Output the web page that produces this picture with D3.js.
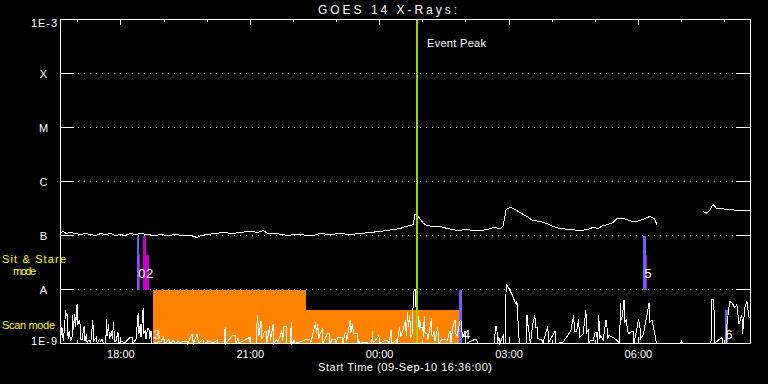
<!DOCTYPE html>
<html><head><meta charset="utf-8">
<script src="https://cdn.jsdelivr.net/npm/d3@7"></script>
<style>body{margin:0;background:#000}svg{display:block;background:#000}text{font-family:"Liberation Sans",Arial,sans-serif}</style>
</head><body><svg id="c" width="768" height="384"></svg>
<script>
// ---------- data ----------
const titleText = "GOES 14 X-Rays:";
const xAxisTitle = "Start Time (09-Sep-10 16:36:00)";
const startTime = new Date(2010, 8, 9, 16, 36);
const durationMin = 960;
const yTickValues = [1e-9, 1e-8, 1e-7, 1e-6, 1e-5, 1e-4, 1e-3];
const yTickLabels = ["1E-9", "A", "B", "C", "M", "X", "1E-3"];
const gridValues = [1e-8, 1e-7, 1e-6, 1e-5, 1e-4];
const peakMinute = 496.3;
const peakLabel = "Event Peak";

// long channel, [minutes from start, flux in 1e-7 W/m^2]; null = data gap
const longChannel = [[0,1.14],[4,1.19],[8,1.09],[14,1.14],[21,1.09],[28,1.04],[35,1.09],[42,1.04],[49,1.0],[56,1.09],[63,1.04],[70,1.09],[76,1.0],[83,1.04],[90,1.0],[97,1.09],[104,1.04],[111,1.09],[121,1.04],[132,1.0],[139,1.04],[149,1.0],[160,1.04],[170,1.0],[181,1.0],[190,0.92],[195,1.0],[204,1.04],[215,1.09],[227,1.14],[239,1.09],[250,1.14],[264,1.19],[275,1.14],[282,1.24],[288,1.09],[299,1.09],[316,1.0],[324,1.04],[334,1.04],[343,1.0],[352,1.0],[361,1.09],[375,1.04],[389,1.09],[403,1.04],[417,1.09],[431,1.14],[445,1.19],[455,1.24],[463,1.29],[473,1.35],[480,1.47],[487,1.53],[491,1.6],[493,2.45],[496,2.34],[500,2.06],[505,1.67],[510,1.53],[518,1.47],[528,1.47],[538,1.35],[552,1.24],[566,1.29],[574,1.24],[584,1.24],[594,1.29],[602,1.41],[612,1.35],[616,1.53],[620,3.03],[626,3.3],[630,3.16],[635,2.9],[639,2.67],[649,2.25],[657,1.9],[667,1.82],[677,1.67],[685,1.47],[695,1.35],[709,1.29],[723,1.24],[733,1.29],[741,1.41],[748,1.35],[755,1.53],[762,1.6],[769,1.74],[774,2.06],[782,2.06],[788,1.98],[795,1.82],[802,1.82],[810,1.98],[816,2.15],[820,2.25],[824,2.15],[827,1.98],[830,1.53],null,[894,2.78],[899,2.6],[903,2.9],[908,3.75],[913,3.16],[920,3.16],[927,3.03],[934,3.03],[941,2.9],[952,2.9],[959,2.9]];

// short channel, [minutes from start, flux in 1e-9 W/m^2]
const shortChannel = [[0,1.2],[2,2.0],[4,1.1],[6,2.4],[7,4.1],[8,3.3],[9,3.7],[10,1.5],[11,1.2],[12,1.7],[14,1.1],[16,1.3],[17,3.3],[18,1.8],[20,3.5],[21,2.0],[23,5.3],[24,2.2],[26,2.7],[27,2.6],[28,1.2],[30,1.2],[33,2.1],[34,1.1],[36,1.5],[37,1.0],[39,1.15],[41,1.1],[42,1.0],[45,2.7],[46,1.1],[50,1.3],[51,1.0],[54,1.2],[56,1.1],[58,1.2],[60,1.0],[63,1.0],[64,2.8],[65,1.4],[67,2.3],[68,1.2],[71,1.7],[72,1.2],[74,2.5],[75,1.1],[77,1.1],[80,1.6],[81,1.0],[86,1.1],[88,1.0],[97,1.3],[100,1.3],[101,1.0],[105,1.2],[108,3.6],[109,1.5],[111,2.3],[112,1.3],[115,4.6],[116,1.6],[118,1.7],[119,1.2],[121,1.9],[123,1.9],[124,1.2],[126,1.7],[127,1.0],[140,1.1],[143,1.3],[146,1.0],[150,1.2],[153,1.0],[157,1.15],[160,1.0],[164,1.1],[166,1.0],[170,1.1],[176,1.1],[177,1.0],[183,1.5],[185,1.0],[190,1.5],[192,1.0],[198,1.2],[200,1.0],[206,1.1],[209,1.1],[210,1.0],[218,1.15],[219,1.0],[228,1.0],[229,2.0],[230,1.0],[239,1.4],[243,1.4],[244,1.0],[247,1.25],[248,1.0],[263,1.3],[264,1.0],[272,1.0],[274,3.4],[276,1.4],[279,2.6],[280,1.2],[282,1.4],[284,1.7],[286,1.7],[287,1.0],[291,2.1],[292,1.1],[296,2.3],[297,1.0],[301,1.2],[302,1.0],[308,1.7],[309,1.1],[311,2.1],[314,2.1],[315,1.0],[320,1.0],[321,2.5],[322,1.0],[325,1.15],[326,1.0],[343,1.2],[347,1.2],[348,1.0],[355,2.5],[356,1.5],[358,2.3],[359,1.2],[361,1.5],[364,1.8],[365,1.0],[371,1.5],[374,1.5],[375,1.0],[378,1.2],[382,1.2],[383,1.0],[386,1.3],[392,1.3],[393,1.0],[395,1.4],[397,1.6],[398,1.1],[403,2.7],[404,1.6],[406,2.3],[408,1.5],[413,1.5],[414,1.0],[415,1.2],[416,1.0],[422,1.05],[433,1.0],[434,1.7],[435,1.0],[443,1.4],[444,1.0],[452,1.15],[456,1.1],[457,1.0],[460,1.8],[461,1.0],[467,1.15],[468,1.0],[472,2.0],[473,1.3],[476,1.7],[480,2.7],[481,1.4],[483,3.8],[484,2.0],[486,3.3],[487,1.3],[489,1.4],[491,7],[492,10],[494,10],[495,3],[497,2.5],[498,3.2],[499,1.8],[500,2.7],[501,2.0],[504,2.0],[505,1.3],[506,3.2],[507,1.6],[510,1.5],[511,1.15],[516,2.9],[517,1.3],[520,1.7],[521,1.1],[525,2.0],[526,1.0],[531,1.2],[538,1.15],[542,1.7],[543,1.0],[546,2.1],[549,2.7],[550,1.5],[552,1.4],[556,2.7],[558,2.5],[559,1.3],[560,1.3],[563,1.7],[564,1.0],[577,1.2],[579,1.2],[580,1.0],[604,1.0],[605,2.1],[607,2.1],[608,1.0],[610,1.3],[611,1.0],[616,1.4],[617,1.0],[619,1.0],[620,12.4],[622,11.5],[624,10.5],[628,8.2],[631,6.5],[634,5.3],[635,6.2],[637,2.0],[638,1.2],[639,1.0],[648,1.0],[649,3.4],[650,2.2],[651,2.1],[653,1.15],[654,1.0],[657,2.3],[660,3.3],[661,2.0],[663,2.0],[664,1.25],[670,1.15],[671,1.0],[678,2.1],[679,1.0],[681,1.15],[688,1.7],[689,1.0],[699,1.05],[710,1.7],[714,3.4],[715,1.7],[718,1.7],[721,2.8],[722,1.3],[727,1.5],[731,4.1],[732,1.6],[734,1.8],[735,1.0],[737,1.15],[741,1.15],[744,1.6],[746,1.6],[747,1.0],[749,3.3],[750,1.2],[752,1.4],[755,1.15],[759,2.7],[760,2.7],[761,1.2],[763,1.4],[769,1.3],[774,1.15],[778,1.0],[779,5.7],[780,2.7],[782,3.4],[784,6.5],[785,2.5],[787,2.7],[790,1.5],[795,1.7],[797,1.7],[798,1.0],[804,2.7],[806,2.3],[807,1.2],[811,1.5],[816,3.4],[819,5.7],[820,2.5],[823,2.7],[827,1.5],[829,1.0],[863,1.0],[864,1.15],[865,1.0],[905,1.0],[906,6.5],[909,6.5],[910,1.0],[920,1.3],[922,1.0],[926,1.0],[927,2.1],[931,6.0],[935,5.5],[938,4.6],[941,5.3],[944,2.3],[948,3.4],[949,1.5],[952,4.6],[955,6.2],[958,3.0]];

// scan mode blocks: [start min, end min, level flux]
const scanModes = [[128, 341, 1e-8], [341, 555.5, 4.1e-9]];
// sit & stare / pointing markers: [start min, end min, top flux, bottom flux, kind]
const markers = [
  [107.5, 109.3, 1e-7, 1e-8, "blue"],
  [109.3, 111.3, 4.3e-8, 1e-8, "magenta"],
  [115.9, 119.2, 1e-7, 1e-8, "magenta"],
  [119.2, 123.8, 4.3e-8, 1e-8, "magenta"],
  [555.7, 559.4, 1e-8, 1e-9, "blue"],
  [811, 814, 1e-7, 1e-8, "blue"],
  [814, 816.8, 4.3e-8, 1e-8, "magenta"],
  [925, 929, 4.1e-9, 1e-9, "blue"]
];
// event number labels: [text, minute, row]
const eventLabels = [["0", 108.6, "stare"], ["2", 119.7, "stare"], ["3", 129, "scan"], ["4", 560, "scan"], ["5", 812, "stare"], ["6", 925, "scan"]];
const modeLabels = [["Sit & Stare", 1e-7], ["mode", 1e-7], ["Scan mode", 1e-8]];

// ---------- drawing ----------
const svg = d3.select("#c");
const t = m => d3.timeMinute.offset(startTime, m);
const x = d3.scaleTime().domain([startTime, t(durationMin)]).range([60.5, 750.5]);
const y = d3.scaleLog().domain([1e-9, 1e-3]).range([343.5, 19.5]);
const colors = {blue: "#6464ff", magenta: "#c800c8", orange: "#ff8200", peak: "#a4d400", mode: "#ffff00"};

// scan blocks
svg.append("g").selectAll("rect").data(scanModes).join("rect")
  .attr("x", d => x(t(d[0]))).attr("width", d => x(t(d[1])) - x(t(d[0])))
  .attr("y", d => y(d[2])).attr("height", d => y(1e-9) - y(d[2]))
  .attr("fill", colors.orange).attr("shape-rendering", "crispEdges");

// grid
const grid = svg.append("g").attr("stroke", "#fff").attr("shape-rendering", "crispEdges");
gridValues.forEach(v => {
  const yy = Math.round(y(v) - 0.5) + 0.5;
  grid.append("line").attr("x1", 60).attr("x2", 74).attr("y1", yy).attr("y2", yy);
  grid.append("line").attr("x1", 736).attr("x2", 750).attr("y1", yy).attr("y2", yy);
  grid.append("line").attr("x1", 78).attr("x2", 735).attr("y1", yy).attr("y2", yy).attr("stroke-dasharray", "1,5");
});

// markers
svg.append("g").selectAll("rect").data(markers).join("rect")
  .attr("x", d => x(t(d[0]))).attr("width", d => x(t(d[1])) - x(t(d[0])))
  .attr("y", d => y(d[2])).attr("height", d => y(d[3]) - y(d[2]))
  .attr("fill", d => colors[d[4]]).attr("shape-rendering", "crispEdges");

// lines
const lineGen = (unit) => d3.line().defined(d => d !== null)
  .x(d => x(t(d[0]))).y(d => y(Math.max(1e-9, d[1] * unit)));
svg.append("path").datum(shortChannel).attr("d", lineGen(1e-9))
  .attr("fill", "none").attr("stroke", "#fff").attr("stroke-width", 1).attr("shape-rendering", "crispEdges");
svg.append("path").datum(longChannel).attr("d", lineGen(1e-7))
  .attr("fill", "none").attr("stroke", "#fff").attr("stroke-width", 1).attr("shape-rendering", "crispEdges");

// event labels
svg.append("g").selectAll("text").data(eventLabels).join("text")
  .attr("x", d => x(t(d[1])))
  .attr("y", d => d[2] === "stare" ? y(1e-8) - 12 : y(1e-9) - 5)
  .attr("fill", "#fff").attr("font-size", 13).text(d => d[0]);

// peak line
const px = x(t(peakMinute));
svg.append("rect").attr("x", px - 1).attr("width", 2).attr("y", 19).attr("height", 325)
  .attr("fill", colors.peak).attr("shape-rendering", "crispEdges");
svg.append("text").attr("x", px + 10).attr("y", 47).attr("fill", "#fff").attr("font-size", 11)
  .attr("textLength", 59).attr("lengthAdjust", "spacing").text(peakLabel);

// frame
svg.append("rect").attr("x", 60.5).attr("y", 19.5).attr("width", 690).attr("height", 324)
  .attr("fill", "none").attr("stroke", "#fff").attr("shape-rendering", "crispEdges");

// x ticks
const hours = x.ticks(d3.timeHour.every(1));
const tk = svg.append("g").attr("stroke", "#fff").attr("shape-rendering", "crispEdges");
hours.forEach(h => {
  const xx = Math.round(x(h) - 0.5) + 0.5;
  const len = h.getHours() % 3 === 0 ? 6 : 3;
  tk.append("line").attr("x1", xx).attr("x2", xx).attr("y1", 19).attr("y2", 19 + len);
  tk.append("line").attr("x1", xx).attr("x2", xx).attr("y1", 343).attr("y2", 343 - len);
});
const fmt = d3.timeFormat("%H:%M");
svg.append("g").selectAll("text").data(hours.filter(h => h.getHours() % 3 === 0)).join("text")
  .attr("x", d => x(d)).attr("y", 358).attr("text-anchor", "middle")
  .attr("fill", "#fff").attr("font-size", 11).text(d => fmt(d));
svg.append("text").attr("x", 318).attr("y", 371).attr("fill", "#fff").attr("font-size", 11)
  .attr("textLength", 174).attr("lengthAdjust", "spacing").text(xAxisTitle);

// y labels
svg.append("g").selectAll("text").data(yTickValues).join("text")
  .attr("x", (d, i) => yTickLabels[i].length > 1 ? 57 : 43.5)
  .attr("text-anchor", (d, i) => yTickLabels[i].length > 1 ? "end" : "middle")
  .attr("y", (d, i) => i === 0 ? y(d) + 1 : i === yTickValues.length - 1 ? y(d) + 7.5 : y(d) + 4.5)
  .attr("fill", "#fff").attr("font-size", 11)
  .each(function(d, i) { if (yTickLabels[i].length > 1) d3.select(this).attr("textLength", 26).attr("lengthAdjust", "spacing"); })
  .text((d, i) => yTickLabels[i]);

// mode labels
svg.append("text").attr("x", 2).attr("y", y(modeLabels[0][1]) + 27).attr("fill", colors.mode).attr("font-size", 11)
  .attr("textLength", 64).attr("lengthAdjust", "spacing").text(modeLabels[0][0]);
svg.append("text").attr("x", 13).attr("y", y(modeLabels[1][1]) + 39).attr("fill", colors.mode).attr("font-size", 11)
  .attr("textLength", 23).attr("lengthAdjust", "spacing").text(modeLabels[1][0]);
svg.append("text").attr("x", 2).attr("y", y(modeLabels[2][1]) + 39).attr("fill", colors.mode).attr("font-size", 11)
  .attr("textLength", 53).attr("lengthAdjust", "spacing").text(modeLabels[2][0]);

// title
svg.append("text").attr("x", 318).attr("y", 14).attr("fill", "#fff").attr("font-size", 12)
  .attr("textLength", 139).attr("lengthAdjust", "spacing").text(titleText);
</script></body></html>
